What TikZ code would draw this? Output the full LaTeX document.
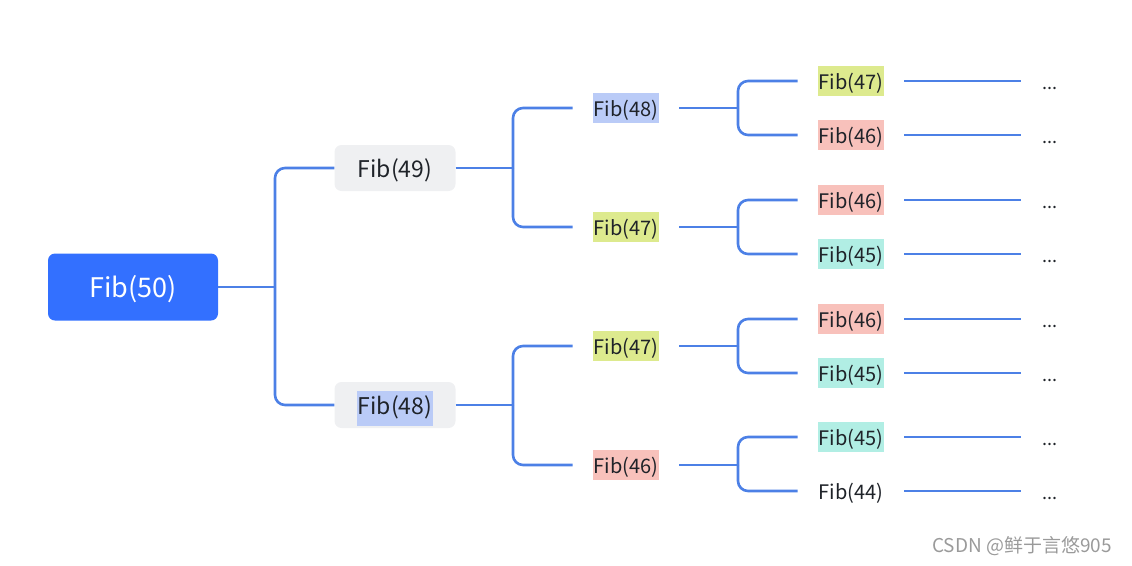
\documentclass[tikz,border=0pt]{standalone}
\usepackage{fontspec}
\setmainfont{Noto Sans CJK SC}
\usepackage{xcolor}
\usepackage{tikz}
\usetikzlibrary{positioning}
\definecolor{rootblue}{HTML}{3370FF}
\definecolor{linkblue}{HTML}{4C80E6}
\definecolor{boxgray}{HTML}{EFF0F2}
\definecolor{fibtext}{HTML}{1F2329}
\definecolor{hlblue}{HTML}{BACBF7}
\definecolor{hlgreen}{HTML}{DDEA8E}
\definecolor{hlred}{HTML}{F8C1BB}
\definecolor{hlteal}{HTML}{B1EEE4}
\definecolor{markgray}{HTML}{9A9A9A}
\setlength{\fboxsep}{4pt}

\begin{document}
\begin{tikzpicture}[x=1pt, y=-1pt,
        every node/.style = {text=fibtext},
        root/.style = {fill=rootblue, text=white, rounded corners=7pt, minimum width=170pt, minimum height=67pt, text height=25pt, text depth=4pt, font=\fontsize{27}{30}\selectfont},
        mid/.style = {fill=boxgray, rounded corners=7pt, minimum width=121pt, minimum height=46pt, text height=22pt, text depth=4pt, font=\fontsize{23}{26}\selectfont},
        leaf/.style = {inner xsep=1pt, inner ysep=3pt, outer xsep=20pt, text height=21pt, text depth=3.5pt, font=\fontsize{20}{24}\selectfont},
        more/.style = {inner sep=0pt, outer xsep=22pt, text height=20pt, text depth=4pt, font=\fontsize{18}{20}\selectfont},
        link/.style = {draw=linkblue, line width=2.6pt, rounded corners=10pt}
        ]
        \useasboundingbox (0,0) rectangle (1132,565);
        \node[root] (1) at (133,287) {Fib(50)};
        \node[mid] (2) at (395,168) {Fib(49)};
        \node[mid] (3) at (395,405) {\colorbox{hlblue}{\hspace{-3pt}\strut Fib(48)\hspace{-3pt}}};
        \node[leaf, fill=hlblue] (4) at (626,108) {Fib(48)};
        \node[leaf, fill=hlgreen] (5) at (626,227) {Fib(47)};
        \node[leaf, fill=hlgreen] (6) at (626,346) {Fib(47)};
        \node[leaf, fill=hlred] (7) at (626,465) {Fib(46)};
        \node[leaf, fill=hlgreen] (8) at (851,81) {Fib(47)};
        \node[leaf, fill=hlred] (9) at (851,135) {Fib(46)};
        \node[leaf, fill=hlred] (10) at (851,200) {Fib(46)};
        \node[leaf, fill=hlteal] (11) at (851,254) {Fib(45)};
        \node[leaf, fill=hlred] (12) at (851,319) {Fib(46)};
        \node[leaf, fill=hlteal] (13) at (851,373) {Fib(45)};
        \node[leaf, fill=hlteal] (14) at (851,437) {Fib(45)};
        \node[leaf] (15) at (851,491) {Fib(44)};
        \node[more] (d8) at (1050,81) {...};
        \node[more] (d9) at (1050,135) {...};
        \node[more] (d10) at (1050,200) {...};
        \node[more] (d11) at (1050,254) {...};
        \node[more] (d12) at (1050,319) {...};
        \node[more] (d13) at (1050,373) {...};
        \node[more] (d14) at (1050,437) {...};
        \node[more] (d15) at (1050,491) {...};
        \node[text=markgray, font=\fontsize{19}{22}\selectfont] (csdn) at (1022,546) {CSDN @鲜于言悠905};
        % branch points
        \coordinate (j1) at (275,287);
        \coordinate (j2) at (513,168);
        \coordinate (j3) at (513,405);
        \coordinate (j4) at (738,108);
        \coordinate (j5) at (738,227);
        \coordinate (j6) at (738,346);
        \coordinate (j7) at (738,465);
        \draw[link] (1) -- (j1);
        \draw[link] (j1) |- (2);
        \draw[link] (j1) |- (3);
        \draw[link] (2) -- (j2);
        \draw[link] (j2) |- (4);
        \draw[link] (j2) |- (5);
        \draw[link] (3) -- (j3);
        \draw[link] (j3) |- (6);
        \draw[link] (j3) |- (7);
        \draw[link] (4) -- (j4);
        \draw[link] (j4) |- (8);
        \draw[link] (j4) |- (9);
        \draw[link] (5) -- (j5);
        \draw[link] (j5) |- (10);
        \draw[link] (j5) |- (11);
        \draw[link] (6) -- (j6);
        \draw[link] (j6) |- (12);
        \draw[link] (j6) |- (13);
        \draw[link] (7) -- (j7);
        \draw[link] (j7) |- (14);
        \draw[link] (j7) |- (15);
        \draw[link] (8) -- (d8);
        \draw[link] (9) -- (d9);
        \draw[link] (10) -- (d10);
        \draw[link] (11) -- (d11);
        \draw[link] (12) -- (d12);
        \draw[link] (13) -- (d13);
        \draw[link] (14) -- (d14);
        \draw[link] (15) -- (d15);
\end{tikzpicture}
\end{document}
